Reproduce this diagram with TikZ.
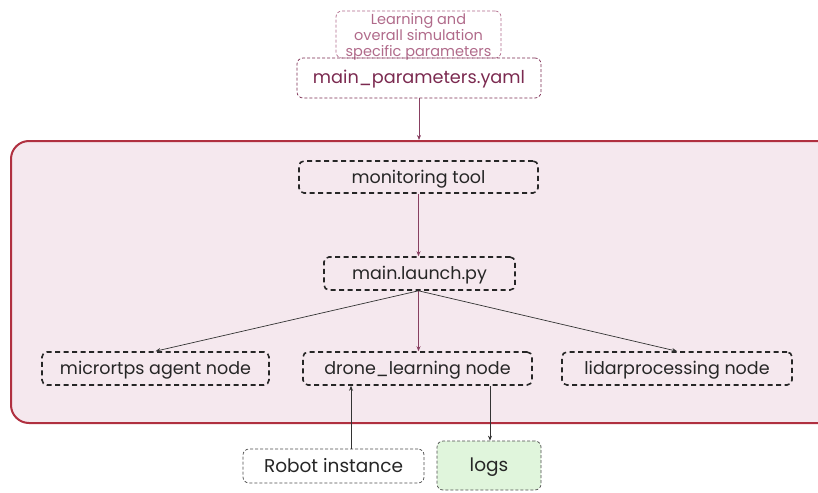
\documentclass[tikz,border=0pt]{standalone}
\usepackage{fontspec}
\setmainfont{Poppins}
\usetikzlibrary{arrows.meta}
\definecolor{magtext}{HTML}{7B2A50}
\definecolor{pinktext}{HTML}{B06A8A}
\definecolor{boxred}{HTML}{B03040}
\definecolor{boxfill}{HTML}{F5E8EE}
\definecolor{logfill}{HTML}{E0F5DC}
\begin{document}
\begin{tikzpicture}[x=1pt,y=-1pt,
  lowtext/.style={text height=13pt, text depth=1pt},
  procbox/.style={draw=black!85, line width=1.6pt, dash pattern=on 5pt off 3.5pt, rounded corners=5pt, font=\fontsize{17.5}{19}\selectfont, text=black!85, lowtext},
  extbox/.style={draw=black!70, line width=0.7pt, dash pattern=on 3pt off 2pt, rounded corners=6pt, font=\fontsize{18.5}{20}\selectfont, text=black!85, lowtext},
  arr/.style={-{Stealth[length=5pt,width=4pt]}, line width=0.7pt, draw=black!80},
  marr/.style={-{Stealth[length=5pt,width=4pt]}, line width=0.7pt, draw=magtext!90}]
\useasboundingbox (0,0) rectangle (818,492);
\clip (0,0) rectangle (818,492);
% note box
\node (note) [draw=pinktext, line width=0.7pt, dash pattern=on 3pt off 2pt, rounded corners=6pt,
  minimum width=165pt, minimum height=47pt, text=pinktext,
  font=\fontsize{14.5}{15.5}\selectfont, inner sep=0pt] at (418.5,34.5)
  {\raisebox{-3pt}[\height][\depth]{\begin{tabular}{@{}c@{}}Learning and\\overall simulation\\specific parameters\end{tabular}}};
\node (yaml) [draw=magtext, line width=0.7pt, dash pattern=on 3pt off 2pt, rounded corners=6pt,
  minimum width=244pt, minimum height=40pt, text=magtext, lowtext,
  font=\fontsize{17.7}{19}\selectfont, inner sep=0pt] at (419,78) {main\_parameters.yaml};
% big container
\node (cont) [draw=boxred, fill=boxfill, line width=2pt, rounded corners=18pt,
  minimum width=830pt, minimum height=282pt, inner sep=0pt] at (426,282) {};
% process boxes
\node (mon) [procbox, minimum width=239pt, minimum height=32pt, inner sep=0pt] at (418.5,177) {monitoring tool};
\node (launch) [procbox, minimum width=191pt, minimum height=33pt, inner sep=0pt] at (419.5,273.5) {main.launch.py};
\node (micro) [procbox, minimum width=227pt, minimum height=33pt, inner sep=0pt] at (155.5,368.5) {micrortps agent node};
\node (drone) [procbox, minimum width=229pt, minimum height=33pt, inner sep=0pt] at (417.5,368.5) {drone\_learning node};
\node (lidar) [procbox, minimum width=230pt, minimum height=33pt, inner sep=0pt] at (677,368.5) {lidarprocessing node};
% external
\node (robot) [extbox, minimum width=181pt, minimum height=34pt, inner sep=0pt] at (333.5,466) {Robot instance};
\node (logs) [extbox, fill=logfill, minimum width=104pt, minimum height=49pt, inner sep=0pt] at (489,465.5) {logs};
% connectors
\draw[marr] (yaml.south) -- (yaml.south |- cont.north);
\draw[marr] (mon.south) -- (launch.north -| mon.south);
\draw[arr] (launch.south -| mon.south) -- (micro.north);
\draw[marr] (launch.south -| mon.south) -- (drone.north -| mon.south);
\draw[arr] (launch.south -| mon.south) -- (lidar.north);
\draw[arr] (robot.north -| 351,0) -- (drone.south -| 351,0);
\draw[arr] (drone.south -| 490,0) -- (logs.north -| 490,0);
\end{tikzpicture}
\end{document}
